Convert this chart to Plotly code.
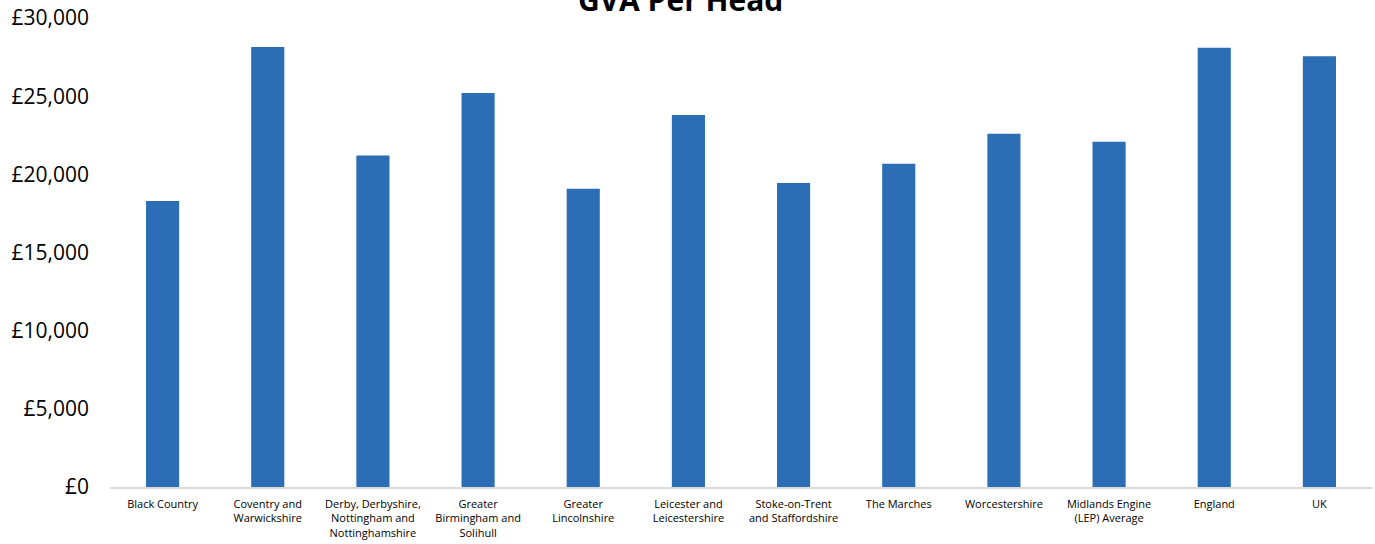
import plotly.graph_objects as go

categories = [
    "Black Country",
    "Coventry and<br>Warwickshire",
    "Derby, Derbyshire,<br>Nottingham and<br>Nottinghamshire",
    "Greater<br>Birmingham and<br>Solihull",
    "Greater<br>Lincolnshire",
    "Leicester and<br>Leicestershire",
    "Stoke-on-Trent<br>and Staffordshire",
    "The Marches",
    "Worcestershire",
    "Midlands Engine<br>(LEP) Average",
    "England",
    "UK",
]
gva_per_head = [18300, 28150, 21200, 25200, 19070, 23800, 19450, 20670, 22600, 22080, 28090, 27560]
tick_values = [0, 5000, 10000, 15000, 20000, 25000, 30000]
tick_labels = ["£0", "£5,000", "£10,000", "£15,000", "£20,000", "£25,000", "£30,000"]

fig = go.Figure(
    go.Bar(
        x=categories,
        y=gva_per_head,
        marker=dict(color="#2B6EB5", line=dict(width=0)),
    )
)

fig.update_layout(
    width=1375,
    height=544,
    margin=dict(l=110, r=3, t=18, b=57),
    paper_bgcolor="white",
    plot_bgcolor="white",
    bargap=0.685,
    showlegend=False,
    font=dict(family="Open Sans, Liberation Sans, sans-serif", color="#000000"),
    title=dict(
        text="<b>GVA Per Head</b>",
        x=0.495,
        xanchor="center",
        xref="container",
        y=1.0,
        yref="container",
        yanchor="middle",
        font=dict(size=30, color="#000000"),
    ),
)

fig.update_xaxes(
    showgrid=False,
    showline=True,
    linecolor="#D9D9D9",
    linewidth=1.5,
    ticks="",
    tickangle=0,
    tickfont=dict(size=11, color="#000000"),
    ticklabelstandoff=6,
)

fig.update_yaxes(
    range=[0, 30000],
    tickvals=tick_values,
    ticktext=tick_labels,
    showgrid=False,
    zeroline=False,
    showline=False,
    ticks="",
    tickfont=dict(size=21, color="#000000"),
    ticklabelstandoff=20,
)

fig.write_html("out.html")
